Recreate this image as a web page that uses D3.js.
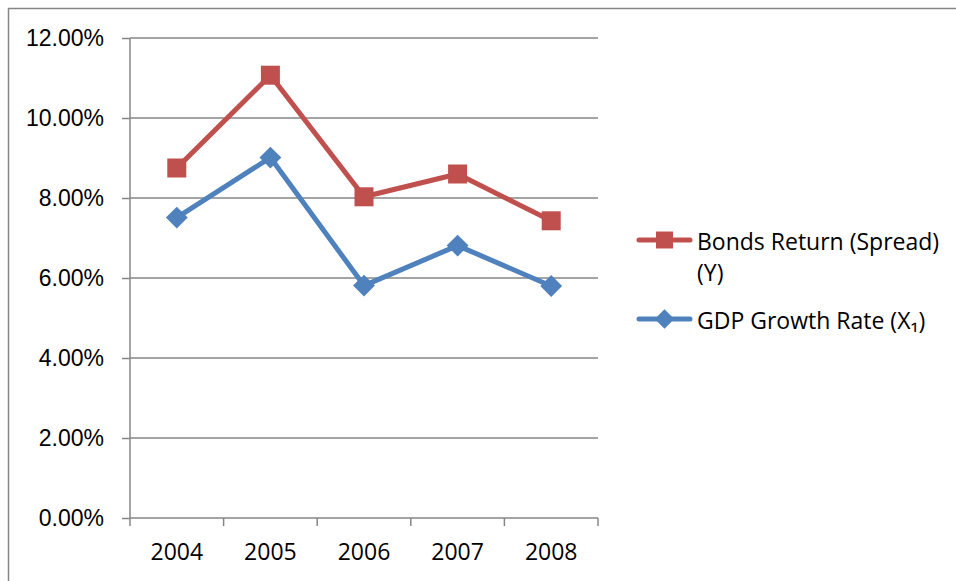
<!DOCTYPE html>
<html>
<head>
<meta charset="utf-8">
<script src="https://cdn.jsdelivr.net/npm/d3@7"></script>
<style>
  html, body { margin: 0; padding: 0; background: #fff; }
  svg { display: block; font-family: "Open Sans", Lato, sans-serif; }
</style>
</head>
<body>
<svg id="chart" width="956" height="581"></svg>
<script>
// Annual figures, 2004–2008
const years = ["2004", "2005", "2006", "2007", "2008"];
const bondsReturn = [0.0875, 0.1107, 0.0803, 0.0860, 0.0743];
const gdpGrowth = [0.0751, 0.0901, 0.0581, 0.0681, 0.0580];
const yTicks = [0, 0.02, 0.04, 0.06, 0.08, 0.10, 0.12];
const seriesNames = ["Bonds Return (Spread)", "GDP Growth Rate (X\u2081)"];

const svg = d3.select("#chart");
const W = 956, H = 581;
const plot = { left: 130, right: 598, top: 38, bottom: 518 };
const gridColor = "#868686";
const fontSize = 23;

// outer frame: only the left and top edges are in view
svg.append("path")
  .attr("d", `M8.5,${H} V8.5 H${W}`)
  .attr("fill", "none")
  .attr("stroke", gridColor)
  .attr("stroke-width", 1.5);

const x = d3.scaleBand().domain(years).range([plot.left, plot.right]);
const y = d3.scaleLinear().domain([0, 0.12]).range([plot.bottom, plot.top]);

// horizontal gridlines
svg.append("g")
  .selectAll("line")
  .data(yTicks.slice(1))
  .join("line")
  .attr("x1", plot.left).attr("x2", plot.right)
  .attr("y1", d => y(d)).attr("y2", d => y(d))
  .attr("stroke", gridColor).attr("stroke-width", 1.5);

// y axis
const yAxis = svg.append("g")
  .attr("transform", `translate(${plot.left},0)`)
  .call(d3.axisLeft(y).tickValues(yTicks).tickFormat(d3.format(".2%")).tickSize(8).tickPadding(18));
yAxis.select(".domain").attr("stroke", gridColor).attr("stroke-width", 1.5).attr("d", `M0,${plot.bottom}V${plot.top}`);
yAxis.selectAll(".tick line").attr("stroke", gridColor).attr("stroke-width", 1.5);
yAxis.selectAll(".tick text").attr("font-size", fontSize).attr("font-family", null).attr("fill", "#000");

// x axis: ticks at category boundaries, labels at centres
const xAxisG = svg.append("g").attr("transform", `translate(0,${plot.bottom})`);
xAxisG.append("line")
  .attr("x1", plot.left).attr("x2", plot.right)
  .attr("stroke", gridColor).attr("stroke-width", 1.5);
const boundaries = years.map(d => x(d)).concat([x(years[years.length - 1]) + x.bandwidth()]);
xAxisG.selectAll("line.tk")
  .data(boundaries)
  .join("line").attr("class", "tk")
  .attr("x1", d => d).attr("x2", d => d)
  .attr("y1", 0).attr("y2", 8)
  .attr("stroke", gridColor).attr("stroke-width", 1.5);
xAxisG.selectAll("text")
  .data(years)
  .join("text")
  .attr("x", d => x(d) + x.bandwidth() / 2)
  .attr("y", 42)
  .attr("text-anchor", "middle")
  .attr("font-size", fontSize)
  .text(d => d);

const cx = d => x(d) + x.bandwidth() / 2;
const line = d3.line().x(d => cx(d.year)).y(d => y(d.value));

const series = [
  { name: seriesNames[0], values: bondsReturn, color: "#C0504D", marker: "square" },
  { name: seriesNames[1], values: gdpGrowth, color: "#4F81BD", marker: "diamond" }
];

function markerPath(kind, s) {
  if (kind === "square") return `M${-s},${-s}H${s}V${s}H${-s}Z`;
  const r = s * 1.15;
  return `M0,${-r}L${r},0L0,${r}L${-r},0Z`;
}

series.forEach(s => {
  const pts = years.map((yr, i) => ({ year: yr, value: s.values[i] }));
  svg.append("path")
    .datum(pts)
    .attr("d", line)
    .attr("fill", "none")
    .attr("stroke", s.color)
    .attr("stroke-width", 5)
    .attr("stroke-linejoin", "round")
    .attr("stroke-linecap", "round");
  svg.append("g")
    .selectAll("path")
    .data(pts)
    .join("path")
    .attr("transform", d => `translate(${cx(d.year)},${y(d.value)})`)
    .attr("d", markerPath(s.marker, 9.5))
    .attr("fill", s.color);
});

// legend
const legend = svg.append("g");
const legendRows = [
  { s: series[0], cy: 240, lines: ["Bonds Return (Spread)", "(Y)"] },
  { s: series[1], cy: 319, lines: [seriesNames[1]] }
];
legendRows.forEach(r => {
  legend.append("line")
    .attr("x1", 639).attr("x2", 690)
    .attr("y1", r.cy).attr("y2", r.cy)
    .attr("stroke", r.s.color).attr("stroke-width", 5).attr("stroke-linecap", "round");
  legend.append("path")
    .attr("transform", `translate(664.5,${r.cy})`)
    .attr("d", markerPath(r.s.marker, 8.5))
    .attr("fill", r.s.color);
  r.lines.forEach((t, i) => {
    legend.append("text")
      .attr("x", 697)
      .attr("y", r.cy + 10 + i * 31)
      .attr("font-size", fontSize)
      .text(t);
  });
});
</script>
</body>
</html>
